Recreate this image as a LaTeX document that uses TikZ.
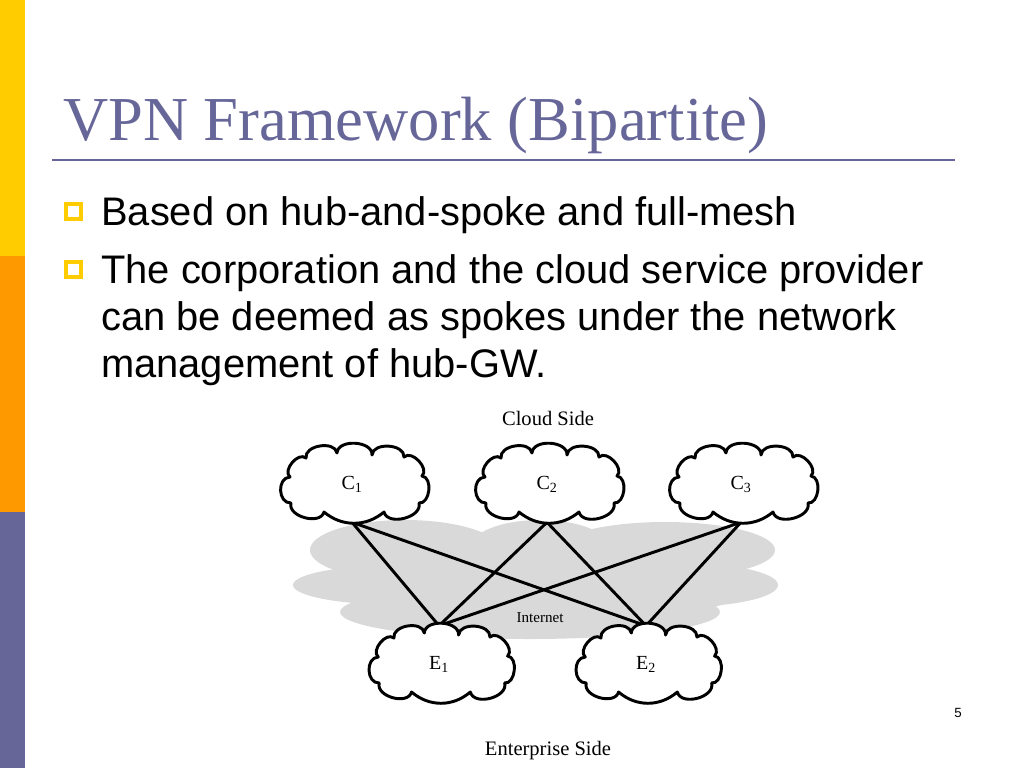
\documentclass[tikz,border=0pt]{standalone}
\usepackage{fontspec}
\setmainfont{Liberation Serif}
\newfontfamily\arialfont{Liberation Sans}
\definecolor{ppyellow}{RGB}{255,204,0}
\definecolor{pporange}{RGB}{255,153,0}
\definecolor{pppurple}{RGB}{102,102,153}
\definecolor{inetgrey}{RGB}{217,217,217}
\pgfdeclarelayer{greylayer}
\pgfdeclarelayer{cloudlayer}
\pgfsetlayers{greylayer,cloudlayer,main}
\tikzset{
  cloudlabel/.style={inner sep=0pt, font=\fontsize{15}{18}\selectfont},
  cloudline/.style={draw=black, fill=white, line width=2.2pt, line join=round},
  puff/.style={bend left=90, looseness=1.05},
  bigpuff/.style={bend left=90, looseness=1.3},
  flatpuff/.style={bend left=40},
  link/.style={line width=2.2pt, black},
  bodytext/.style={anchor=base west, inner sep=0pt, font=\arialfont\fontsize{29.9}{36}\selectfont},
  bulletbox/.style={draw=ppyellow, line width=2.7pt, minimum size=11pt, inner sep=0pt},
  sidelabel/.style={inner sep=0pt, font=\fontsize{15.4}{18}\selectfont},
  greylobe/.style={fill=inetgrey}
}
\newcommand{\puffycloud}[4]{%
  \begin{scope}[shift={(#1,#2)}, xscale=#3, yscale=#4]
  \draw[cloudline] (-62,-7) to[puff] (-46,-26) to[puff] (-15,-31) to[puff] (20,-29)
    to[puff] (52,-27) to[puff] (70,-8) to[puff] (67,19) to[puff] (32,28)
    to[flatpuff] (-28,28) to[puff] (-61,19) to[bigpuff] (-62,-7) -- cycle;
  \end{scope}}
\begin{document}
\begin{tikzpicture}[x=0.75pt,y=-0.75pt]
\useasboundingbox (0,0) rectangle (1024,768);
% left bar
\fill[ppyellow] (0,0) rectangle (25,256);
\fill[pporange] (0,256) rectangle (25,512);
\fill[pppurple] (0,512) rectangle (25,768);
% title
\node[anchor=base west, inner sep=0pt, text=pppurple, font=\fontsize{46.9}{56}\selectfont] (title) at (63,140) {VPN Framework (Bipartite)};
\draw[pppurple, line width=1.5pt] (52,160) -- (955,160);
% bullets
\node[bulletbox] (b1) at (73.5,211.5) {};
\node[bulletbox] (b2) at (73.5,269.5) {};
\node[bodytext] (t1) at (101,225) {Based on hub-and-spoke and full-mesh};
\node[bodytext] (t2) at (101,283) {The corporation and the cloud service provider};
\node[bodytext] (t3) at (101,330) {can be deemed as spokes under the network};
\node[bodytext] (t4) at (101,377) {management of hub-GW.};
% cloud nodes (labels; outline drawn on cloud layer)
\node[cloudlabel, minimum width=111.75pt, minimum height=57pt] (c1) at (352,484) {C\textsubscript{1}};
\node[cloudlabel, minimum width=111.75pt, minimum height=57pt] (c2) at (547,484) {C\textsubscript{2}};
\node[cloudlabel, minimum width=111.75pt, minimum height=57pt] (c3) at (741,484) {C\textsubscript{3}};
\node[cloudlabel, minimum width=108.75pt, minimum height=57pt] (e1) at (439,664) {E\textsubscript{1}};
\node[cloudlabel, minimum width=108.75pt, minimum height=57pt] (e2) at (646,664) {E\textsubscript{2}};
\node[inner sep=0pt, font=\fontsize{11.3}{13}\selectfont] (inet) at (540,618) {Internet};
% internet cloud and links
\begin{pgfonlayer}{greylayer}
\fill[greylobe] (405,550) ellipse [x radius=71.25pt, y radius=22.5pt];
\fill[greylobe] (540,548) ellipse [x radius=52.5pt, y radius=21pt];
\fill[greylobe] (665,550) ellipse [x radius=82.5pt, y radius=21pt];
\fill[greylobe] (400,585) ellipse [x radius=80.25pt, y radius=15pt];
\fill[greylobe] (680,585) ellipse [x radius=73.5pt, y radius=16.5pt];
\fill[greylobe] (540,590) ellipse [x radius=150pt, y radius=26.25pt];
\fill[greylobe] (530,612) ellipse [x radius=142.5pt, y radius=20.25pt];
\draw[link] (c1.south) -- (e1.north);
\draw[link] (c1.south) -- (e2.north);
\draw[link] (c2.south) -- (e1.north);
\draw[link] (c2.south) -- (e2.north);
\draw[link] (c3.south) -- (e1.north);
\draw[link] (c3.south) -- (e2.north);
\end{pgfonlayer}
\begin{pgfonlayer}{cloudlayer}
\puffycloud{352}{484}{1}{1}
\puffycloud{547}{484}{1}{1}
\puffycloud{741}{484}{1}{1}
\puffycloud{439}{664}{0.98}{1}
\puffycloud{646}{664}{0.98}{1}
\end{pgfonlayer}
% labels
\node[sidelabel] (cloudside) at (548,418) {Cloud Side};
\node[sidelabel] (entside) at (548,751) {Enterprise Side};
\node[inner sep=0pt, font=\arialfont\fontsize{10}{12}\selectfont] (pagenum) at (958,713) {5};
\end{tikzpicture}
\end{document}
